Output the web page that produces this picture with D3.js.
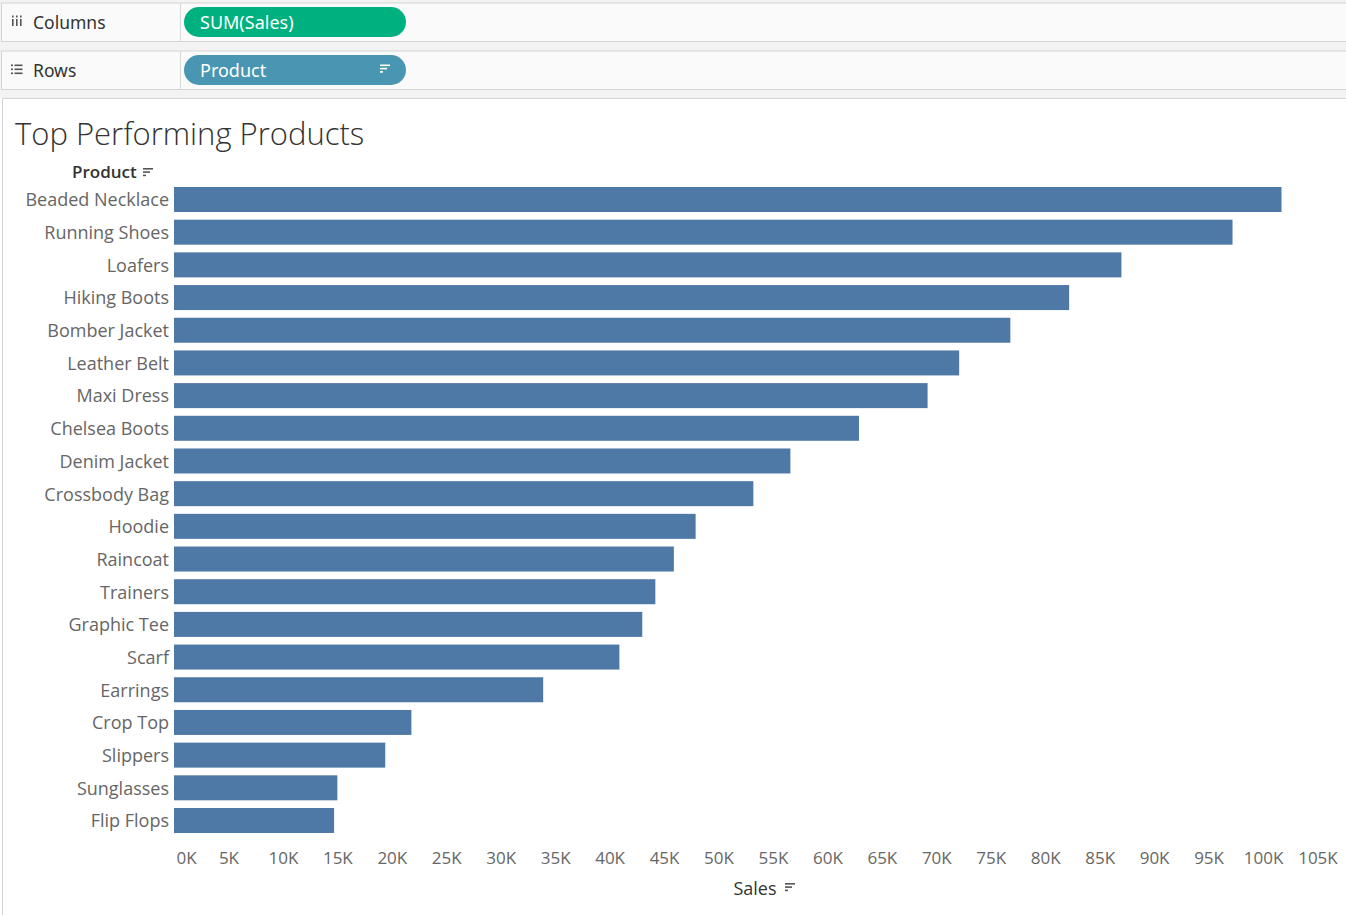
<!DOCTYPE html>
<html lang="en">
<head>
    <meta charset="UTF-8">
    <title>Top Performing Products</title>
    <script src="https://d3js.org/d3.v7.min.js"></script>
    <style>
        body{
            margin: 0;
            background-color: white;
        }
        #canvas{
            display: block;
        }
        .shelfLabel{
            font-family: "Noto Sans", sans-serif;
            font-size: 17.5px;
            fill: #333;
        }
        .pillText{
            font-family: "Noto Sans", sans-serif;
            font-size: 18px;
            fill: white;
        }
        .tick text{
            font-family: "Open Sans", sans-serif;
            font-size: 17px;
            fill: #666;
        }
        .rowLabels .tick text{
            font-size: 18px;
        }
    </style>
</head>
<body>
    <svg id="canvas" width="1346" height="915"></svg>
    <script>
        // chart values
        let products = ['Beaded Necklace', 'Running Shoes', 'Loafers', 'Hiking Boots', 'Bomber Jacket',
            'Leather Belt', 'Maxi Dress', 'Chelsea Boots', 'Denim Jacket', 'Crossbody Bag',
            'Hoodie', 'Raincoat', 'Trainers', 'Graphic Tee', 'Scarf',
            'Earrings', 'Crop Top', 'Slippers', 'Sunglasses', 'Flip Flops'];
        let sales = [101700, 97200, 87000, 82200, 76800,
            72100, 69200, 62900, 56600, 53200,
            47900, 45900, 44200, 43000, 40900,
            33900, 21800, 19400, 15000, 14700];
        let salesTicks = d3.range(0, 105001, 5000);

        let svg = d3.select('#canvas');

        // ---- shelves (Columns / Rows) ----
        svg.append('rect').attr('x', 0).attr('y', 0).attr('width', 1346).attr('height', 98)
            .attr('fill', '#f3f3f3');

        function shelf(y, name, pillText, pillColor, iconType){
            let g = svg.append('g').attr('transform', 'translate(0,' + y + ')');
            g.append('rect').attr('x', 1.5).attr('y', 0.5).attr('width', 1346).attr('height', 38.5)
                .attr('fill', '#fafafa').attr('stroke', '#d4d4d4');
            g.append('line').attr('x1', 180.5).attr('x2', 180.5).attr('y1', 1).attr('y2', 38.5)
                .attr('stroke', '#d9d9d9');
            g.append('text').attr('class', 'shelfLabel').attr('x', 33).attr('y', 26).text(name);
            // small icon in front of the shelf name
            if(iconType == 'cols'){
                [12, 16, 20].forEach(function(x){
                    g.append('rect').attr('x', x).attr('y', 13).attr('width', 1.6).attr('height', 2).attr('fill', '#555');
                    g.append('rect').attr('x', x).attr('y', 16.5).attr('width', 1.6).attr('height', 7).attr('fill', '#555');
                });
            }
            else{
                [14, 18, 22].forEach(function(yy){
                    g.append('rect').attr('x', 11).attr('y', yy).attr('width', 2).attr('height', 1.6).attr('fill', '#555');
                    g.append('rect').attr('x', 14.5).attr('y', yy).attr('width', 8).attr('height', 1.6).attr('fill', '#555');
                });
            }
            g.append('rect').attr('x', 184).attr('y', 4.5).attr('width', 222).attr('height', 30)
                .attr('rx', 15).attr('fill', pillColor);
            g.append('text').attr('class', 'pillText').attr('x', 200).attr('y', 26).text(pillText);
            return g;
        }
        shelf(2.5, 'Columns', 'SUM(Sales)', '#00b180', 'cols');
        let rowsShelf = shelf(50.5, 'Rows', 'Product', '#4996b2', 'rows');
        sortIcon(rowsShelf, 380, 14, 'white', 1.6);

        // ---- worksheet panel ----
        svg.append('rect').attr('x', 2.5).attr('y', 98.5).attr('width', 1346).attr('height', 820)
            .attr('fill', 'white').attr('stroke', '#d4d4d4');

        svg.append('text')
            .attr('x', 15).attr('y', 145)
            .style('font-family', '"Open Sans", sans-serif')
            .style('font-size', '31px')
            .style('font-weight', '300')
            .style('fill', '#333')
            .text('Top Performing Products');

        // sort indicator: three lines getting shorter
        function sortIcon(parent, x, y, color, h){
            [10, 7, 3].forEach(function(w, i){
                parent.append('rect').attr('x', x).attr('y', y + i * 3.3).attr('width', w).attr('height', h)
                    .attr('fill', color);
            });
        }

        // ---- scales ----
        let x = d3.scaleLinear()
            .domain([0, 107000])
            .range([174, 174 + 107 * 10.89]);
        let y = d3.scaleBand()
            .domain(products)
            .range([183.16, 836.84])
            .paddingInner(0.235)
            .paddingOuter(0.1175);

        // bars
        svg.append('g').selectAll('rect')
            .data(products)
            .enter()
            .append('rect')
            .attr('x', x(0))
            .attr('y', function(d){ return y(d); })
            .attr('width', function(d, i){ return x(sales[i]) - x(0); })
            .attr('height', y.bandwidth())
            .attr('fill', '#4e79a7');

        // row labels
        let yAxis = svg.append('g')
            .attr('class', 'rowLabels')
            .attr('transform', 'translate(174,0)')
            .call(d3.axisLeft(y).tickSize(0).tickPadding(5));
        yAxis.select('.domain').remove();
        yAxis.selectAll('text').attr('dy', '0.38em');

        // x axis
        let xAxis = svg.append('g')
            .attr('transform', 'translate(0,846)')
            .call(d3.axisBottom(x).tickValues(salesTicks).tickSize(0).tickPadding(5)
                .tickFormat(function(d){ return (d / 1000) + 'K'; }));
        xAxis.select('.domain').remove();
        xAxis.selectAll('text').attr('dy', '0.75em');
        // first label is pushed inside the axis like Tableau does
        xAxis.selectAll('.tick').filter(function(d){ return d == 0; })
            .select('text').attr('text-anchor', 'start').attr('x', 2);

        // field headers
        svg.append('text')
            .attr('x', 72).attr('y', 178)
            .style('font-family', '"Open Sans", sans-serif')
            .style('font-size', '17px')
            .style('font-weight', '600')
            .style('fill', '#333')
            .text('Product');
        sortIcon(svg, 143, 168, '#555', 1.6);

        svg.append('text')
            .attr('x', 755).attr('y', 895)
            .attr('text-anchor', 'middle')
            .style('font-family', '"Open Sans", sans-serif')
            .style('font-size', '18px')
            .style('font-weight', '500')
            .style('fill', '#333')
            .text('Sales');
        sortIcon(svg, 785, 883, '#555', 1.6);
    </script>
</body>
</html>
